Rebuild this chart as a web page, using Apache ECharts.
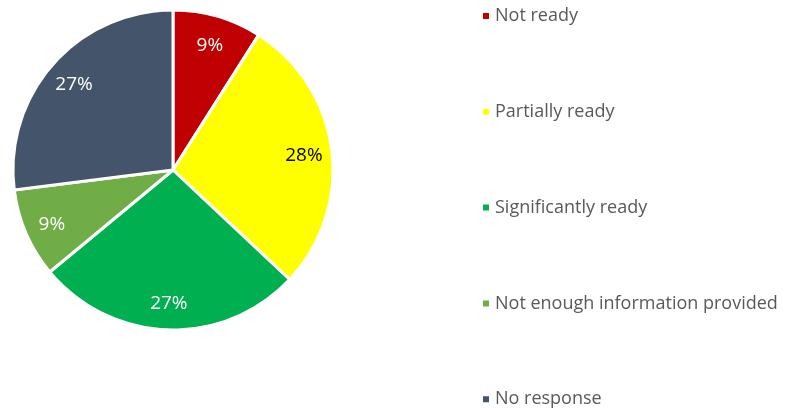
<!DOCTYPE html>
<html><head><meta charset="utf-8">
<script src="https://cdn.jsdelivr.net/npm/echarts@6/dist/echarts.min.js"></script>
<style>html,body{margin:0;padding:0;background:#fff}#c{width:785px;height:408px}</style>
</head><body><div id="c"></div>
<script>
const categories = ['Not ready','Partially ready','Significantly ready','Not enough information provided','No response'];
const values = [9, 28, 27, 9, 27];
const colors = ['#C00000','#FFFF00','#00B050','#70AD47','#44546A'];
const labelColors = ['#FFFFFF','#000000','#FFFFFF','#FFFFFF','#FFFFFF'];

const chart = echarts.init(document.getElementById('c'));
const pieData = categories.map((n,i)=>({name:n, value:values[i], itemStyle:{color:colors[i]}}));
const labelData = categories.map((n,i)=>({name:n, value:values[i], label:{color:labelColors[i]}}));
const legends = categories.map((n,i)=>({
  orient:'vertical', left:476, top:2 + i*95.8,
  itemWidth:8, itemHeight:8, icon:'rect', itemGap:0,
  textStyle:{fontFamily:'Open Sans', fontSize:18, color:'#595959'},
  data:[n]
}));
chart.setOption({
  animation:false,
  legend:legends,
  series:[
    {type:'pie', center:[173,170], radius:[0,160], startAngle:90, clockwise:true,
     data:pieData, label:{show:false}, labelLine:{show:false},
     itemStyle:{borderColor:'#fff', borderWidth:3}, silent:true},
    {type:'pie', center:[173,172], radius:[98,160], startAngle:90, clockwise:true,
     data:labelData, itemStyle:{color:'rgba(0,0,0,0)'}, silent:true, legendHoverLink:false,
     label:{show:true, position:'inside', formatter:(p)=>p.value+'%', fontFamily:'Open Sans', fontSize:19}}
  ]
});
</script></body></html>
